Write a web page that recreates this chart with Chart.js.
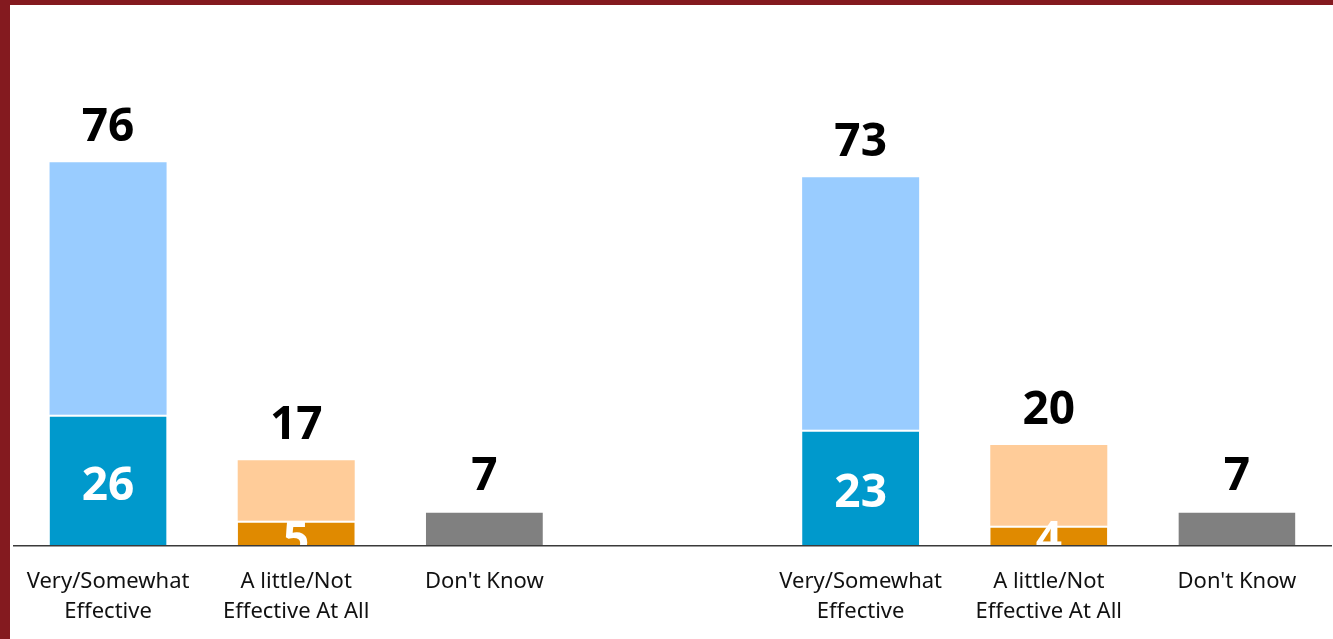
<!DOCTYPE html>
<html>
<head>
<meta charset="utf-8">
<script src="https://cdn.jsdelivr.net/npm/chart.js@4.4.1/dist/chart.umd.min.js"></script>
<style>
  html, body { margin: 0; padding: 0; background: #fff; }
  #wrap { position: relative; width: 1333px; height: 639px; }
  .edge { position: absolute; background: #841a1f; }
</style>
</head>
<body>
<div id="wrap">
  <canvas id="myChart"></canvas>
  <div class="edge" style="left:0;top:0;width:1333px;height:5px"></div>
  <div class="edge" style="left:0;top:0;width:10px;height:639px"></div>
</div>
<script>
// one empty slot separates the two groups
const categories = [
  ['Very/Somewhat', 'Effective'],
  ['A little/Not', 'Effective At All'],
  "Don't Know",
  '',
  ['Very/Somewhat', 'Effective'],
  ['A little/Not', 'Effective At All'],
  "Don't Know"
];
const totals = [76, 17, 7, null, 73, 20, 7];
const strong = [26, 5, null, null, 23, 4, null];   // "very" / "not at all" part

const darkColors = ['#0099cc', '#e08a00', '#808080', '#808080', '#0099cc', '#e08a00', '#808080'];
const lightColors = ['#99ccff', '#ffcc99', '#808080', '#808080', '#99ccff', '#ffcc99', '#808080'];

const baseData = totals.map((t, i) => strong[i] != null ? strong[i] : t);
const restData = totals.map((t, i) => t == null ? null : t - baseData[i]);

const labelPlugin = {
  id: 'barLabels',
  afterDatasetsDraw(chart) {
    const {ctx, chartArea} = chart;
    const meta = chart.getDatasetMeta(0);
    const y = chart.scales.y;
    ctx.save();
    ctx.textAlign = 'center';
    ctx.textBaseline = 'alphabetic';
    ctx.font = 'bold 46px "Noto Sans"';
    ctx.fillStyle = '#000';
    totals.forEach((t, i) => {
      if (t == null) return;
      ctx.fillText(String(t), meta.data[i].x, y.getPixelForValue(t) - 21);
    });
    ctx.beginPath();
    ctx.rect(chartArea.left, chartArea.top, chartArea.width, chartArea.height + 4);
    ctx.clip();
    ctx.fillStyle = '#fff';
    strong.forEach((s, i) => {
      if (s == null) return;
      const top = y.getPixelForValue(s);
      const bottom = y.getPixelForValue(0);
      const yy = (bottom - top) > 40 ? (top + bottom) / 2 + 19.5 : bottom + 8;
      ctx.fillText(String(s), meta.data[i].x, yy);
    });
    ctx.restore();
  }
};

const ctx = document.getElementById('myChart');
new Chart(ctx, {
  type: 'bar',
  data: {
    labels: categories,
    datasets: [
      {
        data: baseData,
        backgroundColor: darkColors,
        borderColor: '#ffffff',
        borderWidth: {top: 2, left: 0, right: 0, bottom: 0},
        borderSkipped: 'start'
      },
      {
        data: restData,
        backgroundColor: lightColors,
        borderWidth: 0
      }
    ]
  },
  options: {
    responsive: true,
    maintainAspectRatio: false,
    animation: false,
    layout: { padding: { top: 41, left: 14, right: 2, bottom: 0 } },
    datasets: { bar: { categoryPercentage: 1, barPercentage: 0.622 } },
    plugins: { legend: { display: false }, tooltip: { enabled: false } },
    scales: {
      x: {
        stacked: true,
        grid: { display: false },
        border: { display: true, color: '#3a3a3a', width: 1.5, z: 1 },
        ticks: {
          color: '#111',
          padding: 13,
          maxRotation: 0,
          autoSkip: false,
          font: { family: '"Noto Sans"', size: 22, lineHeight: 1.364 }
        },
        afterFit: s => { s.height = 93; }
      },
      y: {
        stacked: true,
        display: false,
        min: 0,
        max: 100
      }
    }
  },
  plugins: [labelPlugin]
});
</script>
</body>
</html>
